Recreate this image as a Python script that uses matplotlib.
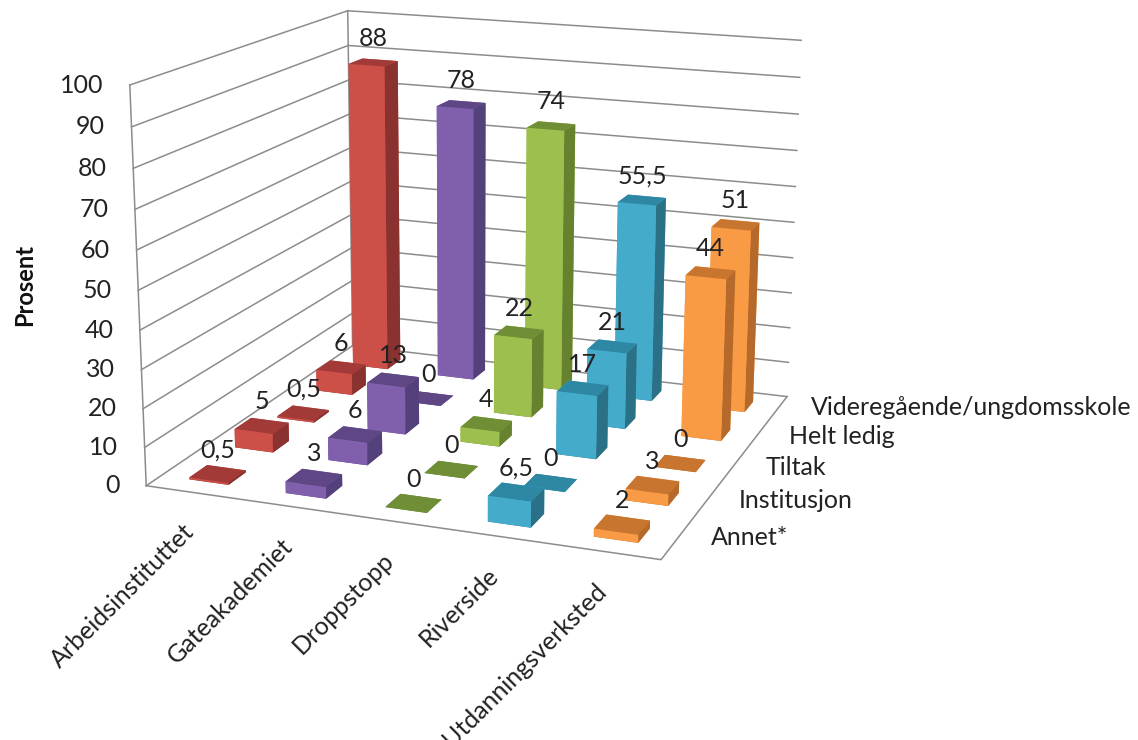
import numpy as np
import matplotlib
matplotlib.use('Agg')
import matplotlib.pyplot as plt
from mpl_toolkits.mplot3d import Axes3D, proj3d

plt.rcParams['font.family'] = ['Lato', 'DejaVu Sans']

categories = ['Arbeidsinstituttet', 'Gateakademiet', 'Droppstopp', 'Riverside', 'Utdanningsverksted']
series = ['Annet*', 'Institusjon', 'Tiltak', 'Helt ledig', 'Videregående/ungdomsskole']
annet = [0.5, 3, 0, 6.5, 2]
institusjon = [5, 6, 0, 0, 3]
tiltak = [0.5, 13, 4, 17, 0]
helt_ledig = [6, 0, 22, 21, 44]
videregaende = [88, 78, 74, 55.5, 51]
values = [annet, institusjon, tiltak, helt_ledig, videregaende]
z_ticks = [0, 10, 20, 30, 40, 50, 60, 70, 80, 90, 100]

# front, side, top colour for each category
front = ['#CC4F48', '#8060AC', '#9CBF4E', '#45ABCB', '#F99A45']
side = ['#8A3230', '#54407A', '#66822F', '#2A7188', '#B5692A']
top = ['#A23B38', '#5F4785', '#6F8E35', '#2F88A3', '#C87530']

fig = plt.figure(figsize=(11.38, 7.40), dpi=100)
ax = fig.add_axes([0.087, 0.031, 0.78, 1.20], projection='3d')
ax.set_proj_type('persp', focal_length=0.46)
# xlim runs past the walls so the view centre sits right of the chart
ax.set_box_aspect((1.74, 1.27, 1.03))
ax.view_init(elev=15.2, azim=-71, roll=-0.6)
ax.computed_zorder = False
ax.set_axis_off()
ax.set_xlim(0, 6.4)
ax.set_ylim(0, 5)
ax.set_zlim(0, 100)
ax.set_xticks([])
ax.set_yticks([])
ax.set_zticks([])


def label(x, y, z, s, dx=0, dy=0, **kw):
    # 3d point -> projected axes coords, then offset in points
    px, py, _ = proj3d.proj_transform(x, y, z, ax.get_proj())
    ax.annotate(s, xy=(px, py), xycoords='data', xytext=(dx, dy), textcoords='offset points',
                annotation_clip=False, color='#222222', zorder=60, **kw)


grid = '#8C8C8C'
for t in z_ticks:
    ax.plot([0, 0], [0, 5], [t, t], color=grid, lw=1.1, zorder=1)
    ax.plot([0, 5], [5, 5], [t, t], color=grid, lw=1.1, zorder=1)
    label(0, 0, t, str(t), dx=-19, ha='right', va='center', fontsize=18)
ax.plot([0, 0], [0, 0], [0, 100], color=grid, lw=1.1, zorder=1)
ax.plot([0, 0], [5, 5], [0, 100], color=grid, lw=1.1, zorder=1)
ax.plot([0, 5, 5], [0, 0, 5], [0, 0, 0], color=grid, lw=1.1, zorder=1)

wx = 0.41
wy = 0.38
order = 2
for j in range(4, -1, -1):
    for i in range(5):
        v = values[j][i]
        ax.bar3d(i + 0.5 - wx / 2, j + 0.5 - wy / 2, 0, wx, wy, v,
                 color=[side[i], top[i], front[i], front[i], front[i], side[i]],
                 shade=False, zorder=order)
        order += 1
        label(i + 0.5, j + 0.5, v, str(v).replace('.', ','), dy=9, ha='center', va='bottom', fontsize=18)

for i, c in enumerate(categories):
    label(i + 0.55, 0, 0, c, dy=-19, dx=-12, rotation=45, rotation_mode='anchor', ha='right', va='top',
          fontsize=18)
for j, s in enumerate(series):
    label(5, j + 0.5, 0, s, dx=25, dy=2, ha='left', va='center', fontsize=18)

fig.text(0.022, 0.615, 'Prosent', rotation=90, fontsize=17, fontweight='bold', color='#111111',
         ha='center', va='center')

fig.savefig('out.png', dpi=100)
